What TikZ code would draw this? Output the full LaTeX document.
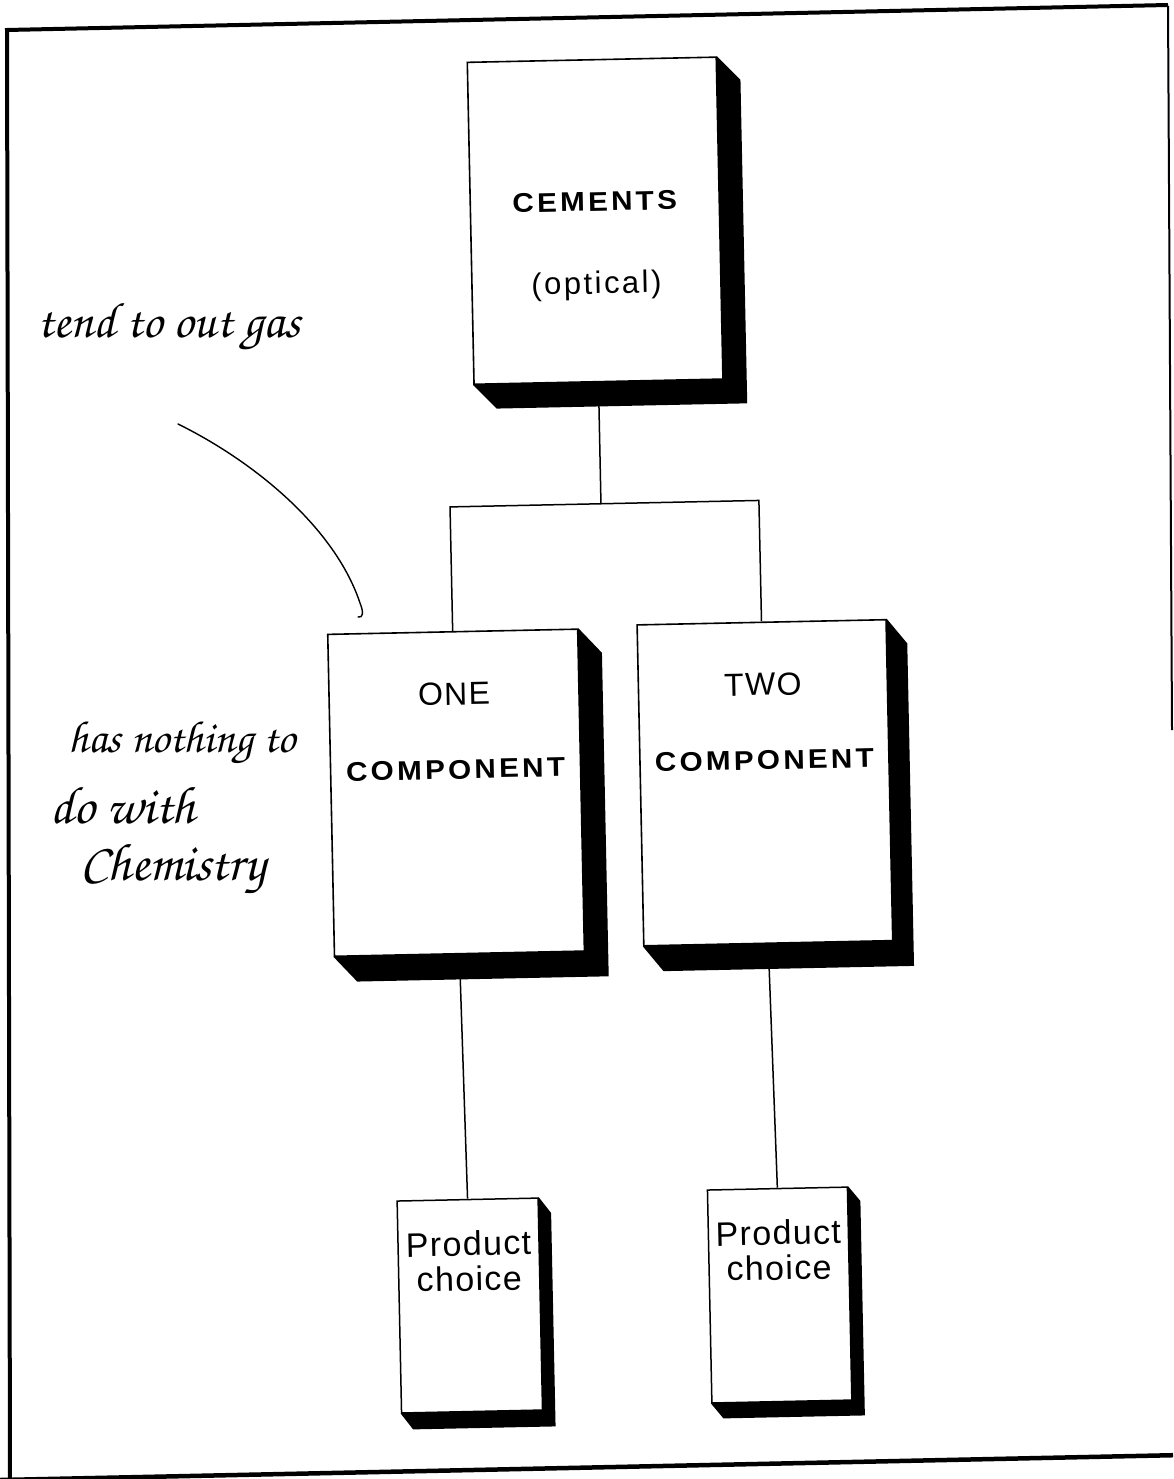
\documentclass[tikz,border=0pt]{standalone}
\usepackage{fontspec}
\setmainfont{Liberation Sans}
\newfontfamily\capsfont[LetterSpace=12,FakeStretch=1.1]{Liberation Sans}
\newfontfamily\plainfont[LetterSpace=4]{Liberation Sans}
\newfontfamily\handfont{TeX Gyre Chorus}
\usetikzlibrary{calc}
\pgfdeclarelayer{background}
\pgfdeclarelayer{shade}
\pgfsetlayers{background,shade,main}

% black extrusion to the lower right of a box node (drawn behind the box)
\newcommand\dropshadow[3]{%
  \fill (#1.north east) -- ++(#2,#3) -- ($(#1.south east)+(#2,#3)$)
    -- ($(#1.south west)+(#2,#3)$) -- (#1.south west) -- cycle;}

\tikzset{
  bigbox/.style={draw, fill=white, line width=1.6pt, minimum width=249pt,
    minimum height=322pt, inner sep=0pt},
  smallbox/.style={draw, fill=white, line width=1.5pt, minimum width=141pt,
    minimum height=212pt, inner sep=0pt},
  boldlabel/.style={anchor=base, inner sep=0pt,
    font=\capsfont\bfseries\fontsize{27}{32}\selectfont},
  thinlabel/.style={anchor=base, inner sep=0pt,
    font=\plainfont\fontsize{32}{38}\selectfont},
  sublabel/.style={anchor=base, inner sep=0pt,
    font=\plainfont\addfontfeatures{LetterSpace=8}\fontsize{31}{37}\selectfont},
  prodlabel/.style={anchor=base, inner sep=0pt,
    font=\plainfont\fontsize{34}{40}\selectfont},
  wire/.style={line width=1.5pt},
  hand/.style={anchor=base west, inner sep=0pt,
    font=\handfont\fontsize{50}{58}\selectfont},
  pen/.style={line width=1.4pt, line cap=round},
}

\begin{document}
\begin{tikzpicture}[x=1pt,y=-1pt]
\useasboundingbox (0,0) rectangle (1173,1479);

% page frame
\draw[line width=4pt, line join=miter] (10,1479) -- (7,30) -- (1168,5);
\draw[line width=2pt] (1168,6) -- (1172,730);
\draw[line width=4.5pt] (0,1480) -- (1173,1455.2);

\begin{scope}[rotate around={1.2:(586,740)}, transform shape]
  % boxes
  \node[bigbox] (cem) at (606,221) {};
  \node[bigbox, minimum width=250pt] (one) at (455,790) {};
  \node[bigbox, minimum height=321pt] (two) at (764,786.5) {};
  \node[smallbox] (pa) at (458,1303) {};
  \node[smallbox, minimum width=140pt, minimum height=213pt] (pb) at (768,1299) {};

  \begin{pgfonlayer}{shade}
    \dropshadow{cem}{23}{24}
    \dropshadow{one}{23}{25}
    \dropshadow{two}{20}{25}
    \dropshadow{pa}{12}{16}
    \dropshadow{pb}{12}{15}
  \end{pgfonlayer}

  % labels
  \node[boldlabel] (cemt) at ($(cem.north)+(0,152)$) {CEMENTS};
  \node[sublabel]  (cems) at ($(cem.north)+(0,235)$) {(optical)};
  \node[thinlabel] (onet) at ($(one.north)+(0,74)$) {ONE};
  \node[boldlabel] (onec) at ($(one.north)+(0,148)$) {COMPONENT};
  \node[thinlabel] (twot) at ($(two.north)+(0,74)$) {TWO};
  \node[boldlabel] (twoc) at ($(two.north)+(0,148)$) {COMPONENT};
  \node[prodlabel] (pat) at ($(pa.north)+(0,57)$) {Product};
  \node[prodlabel] (pac) at ($(pa.north)+(0,92)$) {choice};
  \node[prodlabel] (pbt) at ($(pb.north)+(0,57)$) {Product};
  \node[prodlabel] (pbc) at ($(pb.north)+(0,92)$) {choice};

  % tree connectors, kept behind the boxes and their extrusions
  \begin{pgfonlayer}{background}
    \coordinate (la) at ($(one.north)+(0,-124)$);
    \coordinate (ra) at ($(two.north)+(0,-121)$);
    \coordinate (split) at ($(la)!(cem.south)!(ra)$);
    \draw[wire] (cem.south) -- (split);
    \draw[wire] (one.north) -- (la) -- (ra) -- (two.north);
    \draw[wire] (one.south) -- (pa.north);
    \draw[wire] (two.south) -- (pb.north);
  \end{pgfonlayer}
\end{scope}

% handwritten remarks
\node[hand] (gasnote) at (37,337) {tend to out gas};
\coordinate (penstart) at (178,424);
\coordinate (penend) at (358,617);
\draw[pen] (penstart) .. controls (255,462) and (335,528) .. (360,603)
  .. controls (364,613) and (363,618) .. (penend);
\node[hand, font=\handfont\fontsize{45}{52}\selectfont] (chema) at (68,752) {has nothing to};
\node[hand, font=\handfont\fontsize{53}{60}\selectfont] (chemb) at (50,823) {do with};
\node[hand, font=\handfont\fontsize{53}{60}\selectfont] (chemc) at (80,880) {Chemistry};
\end{tikzpicture}
\end{document}
